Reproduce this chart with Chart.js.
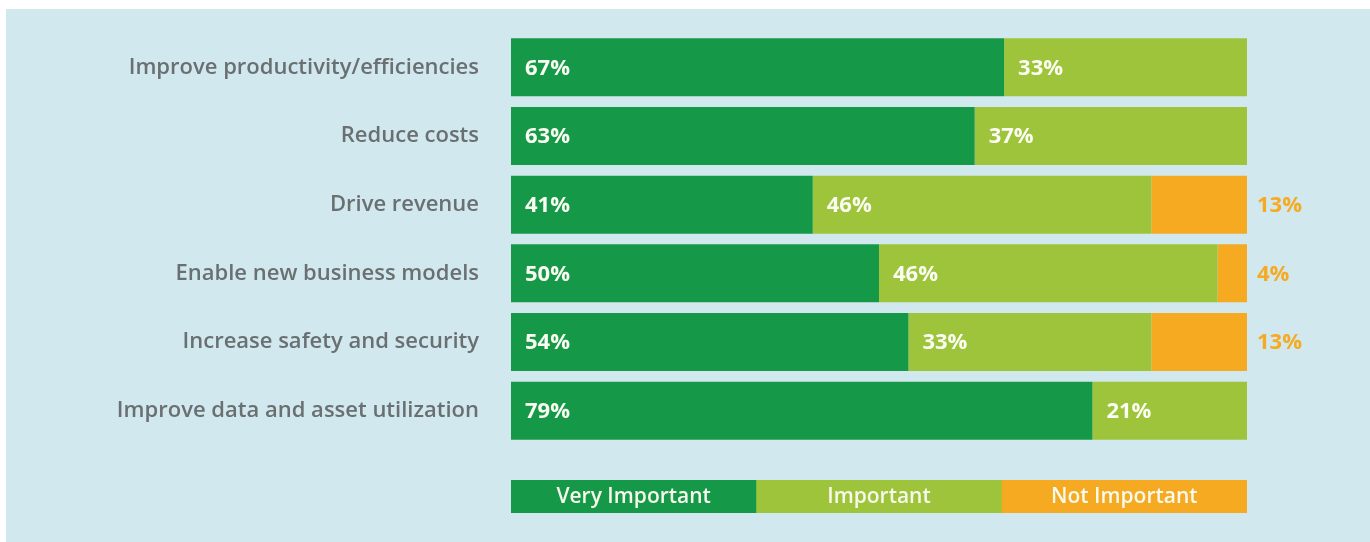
<!DOCTYPE html>
<html>
<head>
<meta charset="utf-8">
<script src="https://cdn.jsdelivr.net/npm/chart.js@4.4.1/dist/chart.umd.min.js"></script>
<style>
  html, body { margin: 0; padding: 0; background: #ffffff; }
  #panel { position: absolute; left: 6px; top: 9px; width: 1364px; height: 533px; background: #d1e9ee; }
  #c { display: block; }
</style>
</head>
<body>
<div id="panel"><canvas id="c" width="1364" height="533"></canvas></div>
<script>
const categories = [
  'Improve productivity/efficiencies',
  'Reduce costs',
  'Drive revenue',
  'Enable new business models',
  'Increase safety and security',
  'Improve data and asset utilization'
];
const seriesLabels = ['Very Important', 'Important', 'Not Important'];
const veryImportant = [67, 63, 41, 50, 54, 79];
const important = [33, 37, 46, 46, 33, 21];
const notImportant = [0, 0, 13, 4, 13, 0];

const COLORS = ['#169849', '#9dc43b', '#f5aa22'];
const LABEL_FONT = "'Open Sans', 'Lato', sans-serif";

const valueLabels = {
  id: 'valueLabels',
  afterDatasetsDraw(chart) {
    const ctx = chart.ctx;
    const xScale = chart.scales.x;
    ctx.save();
    ctx.font = "700 22px " + LABEL_FONT;
    ctx.textBaseline = 'middle';
    ctx.textAlign = 'left';
    chart.data.datasets.forEach((ds, i) => {
      const meta = chart.getDatasetMeta(i);
      meta.data.forEach((el, j) => {
        const v = ds.data[j];
        if (!v) return;
        if (i < 2) {
          ctx.fillStyle = '#fbfdf3';
          ctx.fillText(v + '%', Math.min(el.base, el.x) + 14, el.y + 1);
        } else {
          ctx.fillStyle = COLORS[2];
          ctx.fillText(v + '%', xScale.getPixelForValue(100) + 10, el.y + 1);
        }
      });
    });
    ctx.restore();
  }
};

const blockLegend = {
  id: 'blockLegend',
  afterDraw(chart) {
    const ctx = chart.ctx;
    const a = chart.chartArea;
    const n = chart.data.datasets.length;
    const w = (a.right - a.left) / n;
    const y0 = a.bottom + 35;
    const h = 33;
    ctx.save();
    ctx.font = "600 21px " + LABEL_FONT;
    ctx.textAlign = 'center';
    ctx.textBaseline = 'middle';
    chart.data.datasets.forEach((ds, i) => {
      ctx.fillStyle = ds.backgroundColor;
      ctx.fillRect(a.left + i * w, y0, w + (i < n - 1 ? 0.5 : 0), h);
      ctx.fillStyle = '#f6f9ec';
      ctx.fillText(ds.label, a.left + i * w + w / 2, y0 + h / 2 + 1);
    });
    ctx.restore();
  }
};

new Chart(document.getElementById('c'), {
  type: 'bar',
  data: {
    labels: categories,
    datasets: [
      { label: seriesLabels[0], data: veryImportant, backgroundColor: COLORS[0] },
      { label: seriesLabels[1], data: important, backgroundColor: COLORS[1] },
      { label: seriesLabels[2], data: notImportant, backgroundColor: COLORS[2] }
    ]
  },
  options: {
    indexAxis: 'y',
    responsive: false,
    animation: false,
    events: [],
    layout: { padding: { top: 24, bottom: 97, right: 123, left: 0 } },
    datasets: { bar: { categoryPercentage: 0.845, barPercentage: 1.0, borderWidth: 0 } },
    plugins: { legend: { display: false }, tooltip: { enabled: false } },
    scales: {
      x: { stacked: true, min: 0, max: 100, display: false },
      y: {
        stacked: true,
        grid: { display: true, drawOnChartArea: false, drawTicks: true, tickLength: 32, color: 'rgba(0,0,0,0)' },
        border: { display: false },
        ticks: {
          padding: 0,
          color: '#6a6f71',
          font: { family: LABEL_FONT, size: 22, weight: '600' }
        },
        afterFit(scale) { scale.width = 505; }
      }
    }
  },
  plugins: [valueLabels, blockLegend]
});
</script>
</body>
</html>
